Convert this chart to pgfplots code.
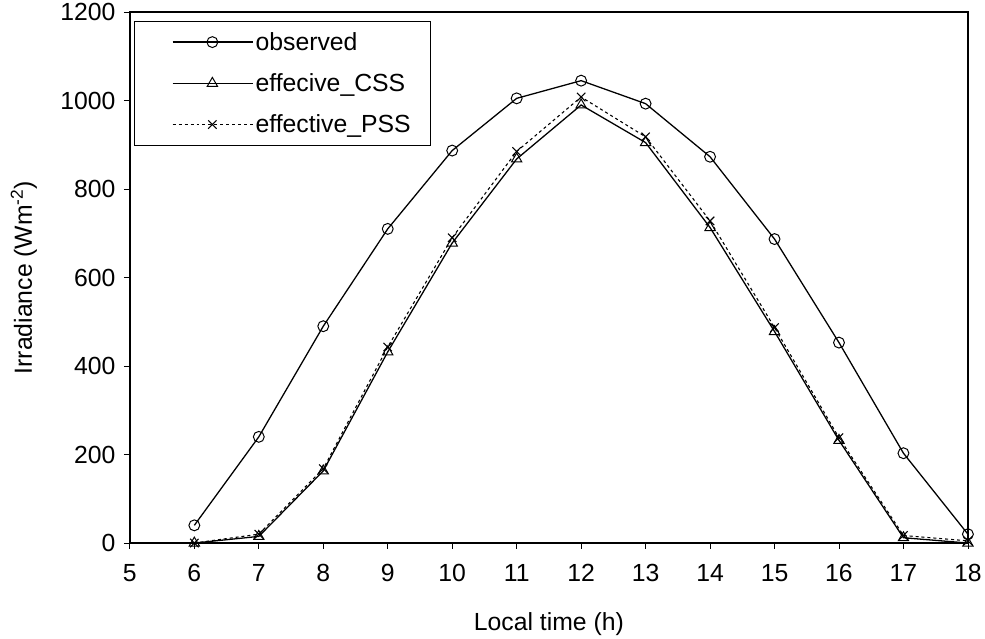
\documentclass[border=0pt]{standalone}
\usepackage{fontspec}
\setmainfont{Liberation Sans}
\usepackage{pgfplots}
\pgfplotsset{compat=1.18}
\begin{document}
\begin{tikzpicture}
\begin{axis}[
  scale only axis,
  width=846pt, height=536pt,
  xmin=5, xmax=18, ymin=0, ymax=1200,
  xtick={5,...,18}, ytick={0,200,...,1200},
  tick align=outside, tick pos=left,
  major tick length=6pt,
  every tick/.style={black, line width=0.8pt},
  axis line style={line width=1.5pt},
  /pgf/number format/assume math mode=true,
  /pgf/number format/1000 sep={},
  tick label style={font=\fontsize{25}{29}\selectfont},
  xticklabel style={yshift=-12pt},
  yticklabel style={xshift=-5pt},
  label style={font=\fontsize{25}{29}\selectfont},
  xlabel={Local time (h)},
  ylabel={Irradiance (Wm\textsuperscript{-2})},
  xlabel style={yshift=-24pt},
  ylabel style={yshift=9pt, inner sep=11pt},
  legend style={at={(0.005,0.983)}, anchor=north west, draw=black, line width=0.8pt,
    font=\fontsize{25}{29}\selectfont, inner xsep=18pt, inner ysep=9pt,
    row sep=18pt, cells={anchor=west}},
  legend cell align=left,
  legend image code/.code={\path (0pt,0pt); \draw[#1, mark repeat=2, mark phase=2] plot coordinates {(20pt,0pt) (60pt,0pt) (101pt,0pt)};},
]
\addplot[black, line width=1.3pt, mark=o, mark size=5.5pt, mark options={fill=white, solid, line width=1pt}] coordinates {
(6,40) (7,240) (8,490) (9,710) (10,887) (11,1005) (12,1045) (13,993) (14,873) (15,687) (16,453) (17,203) (18,20)};
\addlegendentry{observed}
\addplot[black, line width=1.3pt, mark=triangle, mark size=6pt, mark options={fill=white, solid, line width=1pt}] coordinates {
(6,0) (7,15) (8,163) (9,432) (10,678) (11,868) (12,990) (13,905) (14,713) (15,478) (16,232) (17,12) (18,0)};
\addlegendentry{effecive\_CSS}
\addplot[black, line width=1.1pt, dash pattern=on 3pt off 3pt, mark=x, mark size=6pt, mark options={solid, line width=1.1pt}] coordinates {
(6,0) (7,20) (8,168) (9,443) (10,690) (11,885) (12,1008) (13,918) (14,728) (15,487) (16,238) (17,17) (18,5)};
\addlegendentry{effective\_PSS}
\end{axis}
\end{tikzpicture}
\end{document}
